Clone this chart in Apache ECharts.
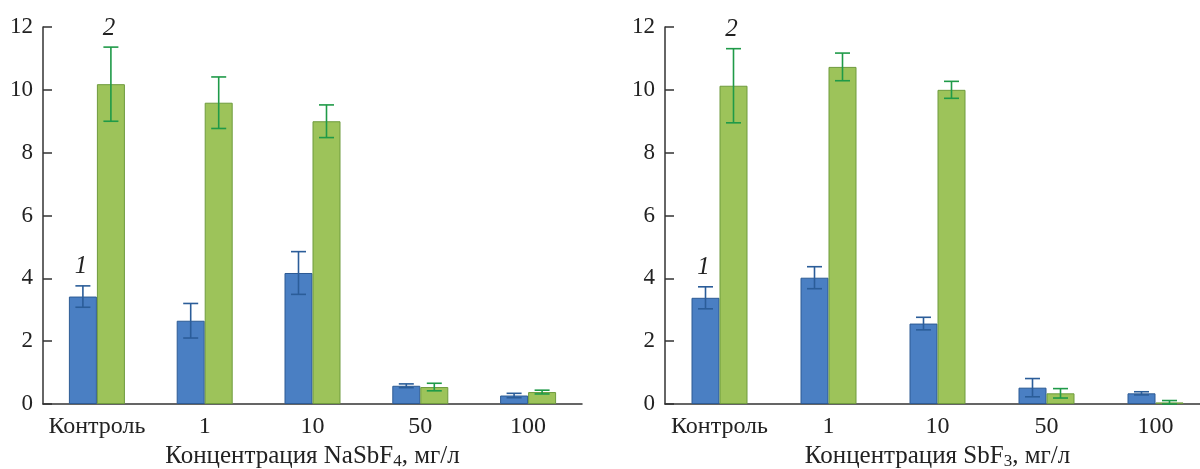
<!DOCTYPE html>
<html><head><meta charset="utf-8">
<script src="https://cdn.jsdelivr.net/npm/echarts@6/dist/echarts.min.js"></script>
<style>html,body{margin:0;padding:0;background:#fff}#c{width:1200px;height:469px}</style>
</head><body><div id="c"></div>
<script>
const categories = ['Контроль', '1', '10', '50', '100'];
const yTicks = [0, 2, 4, 6, 8, 10, 12];
// Panel A: NaSbF4
const naVals1 = [3.42, 2.65, 4.17, 0.58, 0.27];
const naErr1  = [0.34, 0.55, 0.68, 0.06, 0.07];
const naVals2 = [10.18, 9.59, 9.00, 0.54, 0.38];
const naErr2  = [1.18, 0.82, 0.52, 0.12, 0.06];
// Panel B: SbF3
const sbVals1 = [3.38, 4.02, 2.56, 0.52, 0.34];
const sbErr1  = [0.35, 0.35, 0.20, 0.29, 0.05];
const sbVals2 = [10.13, 10.73, 10.00, 0.34, 0.05];
const sbErr2  = [1.18, 0.44, 0.27, 0.15, 0.06];
const seriesLabels = ['1', '2'];
const xTitles = ['Концентрация NaSbF{sub|4}, мг/л', 'Концентрация SbF{sub|3}, мг/л'];

const FONT = '"Liberation Serif", "Times New Roman", serif';
const BLUE = '#4a7fc3', BLUE_B = '#2d5b94', BLUE_E = '#2b5d99';
const GREEN = '#9dc35a', GREEN_B = '#6e9b3d', GREEN_E = '#1f9a48';
const BW = 28;

function errSeries(gi, vals, errs, offset, color, labelText) {
  return {
    type: 'custom', xAxisIndex: gi, yAxisIndex: gi, z: 5,
    data: vals.map((v, i) => [i, Math.max(0, v - errs[i]), v + errs[i]]),
    renderItem: function (params, api) {
      const lo = api.coord([api.value(0), api.value(1)]);
      const hi = api.coord([api.value(0), api.value(2)]);
      const cx = lo[0] + offset;
      const cap = 7.5;
      const st = { stroke: color, lineWidth: 1.6 };
      const ch = [
        { type: 'line', shape: { x1: cx, y1: lo[1], x2: cx, y2: hi[1] }, style: st },
        { type: 'line', shape: { x1: cx - cap, y1: lo[1], x2: cx + cap, y2: lo[1] }, style: st },
        { type: 'line', shape: { x1: cx - cap, y1: hi[1], x2: cx + cap, y2: hi[1] }, style: st }
      ];
      if (params.dataIndex === 0 && labelText) {
        ch.push({ type: 'text', x: cx - 2, y: hi[1] - 19, style: { text: labelText, fontFamily: FONT, fontStyle: 'italic', fontSize: 25, fill: '#222', align: 'center', verticalAlign: 'middle' } });
      }
      return { type: 'group', children: ch };
    }
  };
}

const grids = [
  { left: 43, right: 618, top: 27, bottom: 65, outerBoundsMode: 'none', containLabel: false },
  { left: 665, right: -10, top: 27, bottom: 65, outerBoundsMode: 'none', containLabel: false }
];
const xAxes = grids.map((g, i) => ({
  type: 'category', gridIndex: i, data: categories,
  axisLine: { lineStyle: { color: '#333', width: 1.5 } },
  axisTick: { show: false },
  axisLabel: { interval: 0, fontFamily: FONT, fontSize: 24, color: '#222', margin: 11 },
  name: xTitles[i], nameLocation: 'middle', nameGap: 38,
  nameTextStyle: { fontFamily: FONT, fontSize: 25, color: '#222',
    rich: { sub: { fontFamily: FONT, fontSize: 17, color: '#222', padding: [10, 0, 0, 0] } } }
}));
const yAxes = grids.map((g, i) => ({
  type: 'value', gridIndex: i, min: yTicks[0], max: yTicks[yTicks.length - 1], interval: 2,
  axisLine: { show: true, lineStyle: { color: '#333', width: 1.5 } },
  axisTick: { show: true, inside: true, length: 9, lineStyle: { color: '#333', width: 1.5 } },
  axisLabel: { fontFamily: FONT, fontSize: 23, color: '#222', margin: 10 },
  splitLine: { show: false }
}));

function bars(gi, vals, color, border) {
  return { type: 'bar', xAxisIndex: gi, yAxisIndex: gi, data: vals, barWidth: BW, barGap: '0%',
    itemStyle: { color: color, borderColor: border, borderWidth: 1 } };
}

const option = {
  animation: false,
  grid: grids, xAxis: xAxes, yAxis: yAxes,
  series: [
    bars(0, naVals1, BLUE, BLUE_B), bars(0, naVals2, GREEN, GREEN_B),
    bars(1, sbVals1, BLUE, BLUE_B), bars(1, sbVals2, GREEN, GREEN_B),
    errSeries(0, naVals1, naErr1, -BW / 2, BLUE_E, seriesLabels[0]),
    errSeries(0, naVals2, naErr2, BW / 2, GREEN_E, seriesLabels[1]),
    errSeries(1, sbVals1, sbErr1, -BW / 2, BLUE_E, seriesLabels[0]),
    errSeries(1, sbVals2, sbErr2, BW / 2, GREEN_E, seriesLabels[1])
  ]
};
const chart = echarts.init(document.getElementById('c'), null, { renderer: 'canvas' });
chart.setOption(option);
</script></body></html>
